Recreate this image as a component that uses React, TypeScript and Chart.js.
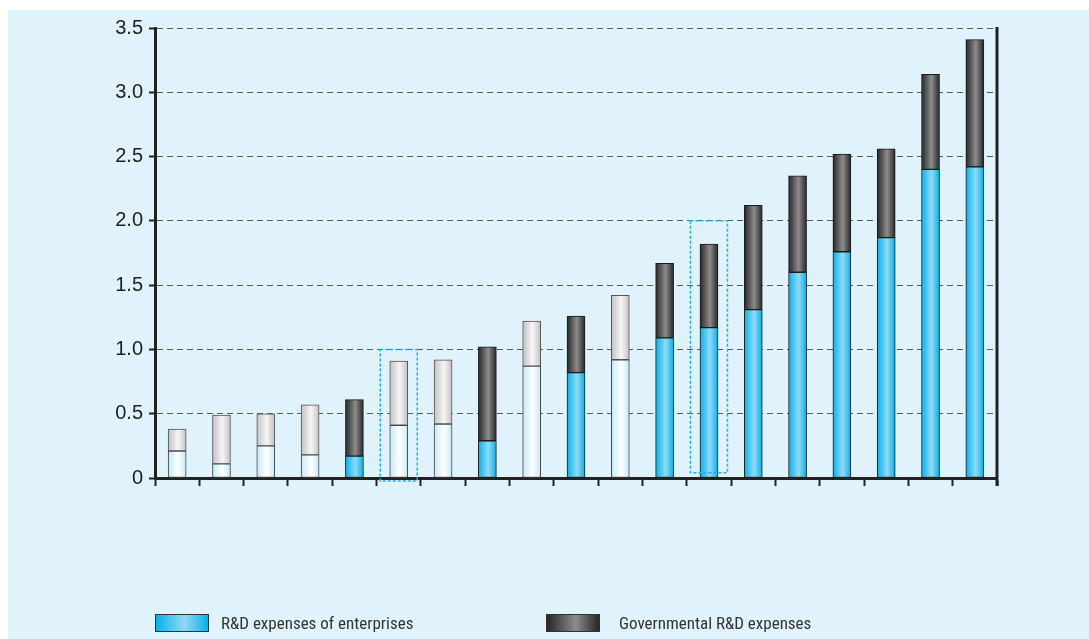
import React, { useEffect, useRef } from "react";
import { Chart, registerables } from "chart.js";

Chart.register(...registerables);

// ---- data ----
const categories: string[] = [
  "1", "2", "3", "4", "5", "6", "7", "8", "9", "10",
  "11", "12", "13", "14", "15", "16", "17", "18", "19",
];
const enterpriseRD: number[] = [
  0.21, 0.11, 0.25, 0.18, 0.17, 0.41, 0.42, 0.29, 0.87, 0.82,
  0.92, 1.09, 1.17, 1.31, 1.6, 1.76, 1.87, 2.4, 2.42,
];
const governmentRD: number[] = [
  0.17, 0.38, 0.25, 0.39, 0.44, 0.5, 0.5, 0.73, 0.35, 0.44,
  0.5, 0.58, 0.65, 0.81, 0.75, 0.76, 0.69, 0.74, 0.99,
];
// bars drawn in pale colours
const paleBars: boolean[] = [
  true, true, true, true, false, true, true, false, true, false,
  true, false, false, false, false, false, false, false, false,
];
const yTicks: number[] = [0, 0.5, 1.0, 1.5, 2.0, 2.5, 3.0, 3.5];
const highlightIndex: number[] = [5, 12];
const highlightTop: number[] = [1.0, 2.0];
const highlightBottom: number[] = [-0.023, 0.04];
const legendLabels: string[] = ["R&D expenses of enterprises", "Governmental R&D expenses"];

const BAR_W = 18;

const palette = {
  paleLow: ["#c4e9f8", "#ffffff", "#c4e9f8"],
  paleHigh: ["#c2c2c2", "#f6f6f6", "#c2c2c2"],
  cyan: ["#00b3ec", "#93d9f5", "#00b3ec"],
  dark: ["#262626", "#8c8c8c", "#262626"],
};

function makeGradient(ctx: any, which: "low" | "high") {
  const chart = ctx.chart;
  const i = ctx.dataIndex;
  const pale = paleBars[i];
  const cols =
    which === "low" ? (pale ? palette.paleLow : palette.cyan) : pale ? palette.paleHigh : palette.dark;
  const xs = chart.scales && chart.scales.x;
  if (!chart.chartArea || !xs || ctx.type !== "data") return cols[1];
  const cx = xs.getPixelForValue(i);
  if (!isFinite(cx)) return cols[1];
  const g = chart.ctx.createLinearGradient(cx - BAR_W / 2, 0, cx + BAR_W / 2, 0);
  g.addColorStop(0, cols[0]);
  g.addColorStop(0.55, cols[1]);
  g.addColorStop(1, cols[2]);
  return g;
}

const framePlugin = {
  id: "framePlugin",
  afterDatasetsDraw(chart: any) {
    const { ctx, chartArea, scales } = chart;
    const x = scales.x;
    const y = scales.y;
    ctx.save();
    // right frame line
    ctx.strokeStyle = "#222";
    ctx.lineWidth = 3;
    ctx.beginPath();
    ctx.moveTo(chartArea.right, chartArea.top - 1);
    ctx.lineTo(chartArea.right, chartArea.bottom + 8);
    ctx.stroke();
    // highlight boxes
    ctx.strokeStyle = "#1db2ea";
    ctx.lineWidth = 1.5;
    ctx.setLineDash([3, 2]);
    highlightIndex.forEach((idx, k) => {
      const cx = x.getPixelForValue(idx);
      const t = y.getPixelForValue(highlightTop[k]);
      const b = y.getPixelForValue(highlightBottom[k]);
      ctx.strokeRect(cx - 18.5, t, 37, b - t);
    });
    ctx.restore();
  },
};

export default function App() {
  const ref = useRef<HTMLCanvasElement | null>(null);
  useEffect(() => {
    if (!ref.current) return;
    const chart = new Chart(ref.current, {
      type: "bar",
      data: {
        labels: categories,
        datasets: [
          {
            label: legendLabels[0],
            data: enterpriseRD,
            backgroundColor: (c: any) => makeGradient(c, "low"),
            borderColor: (c: any) => (paleBars[c.dataIndex] ? "#444" : "#1a1a1a"),
            borderWidth: 1,
            borderSkipped: false,
            barThickness: BAR_W,
          },
          {
            label: legendLabels[1],
            data: governmentRD,
            backgroundColor: (c: any) => makeGradient(c, "high"),
            borderColor: (c: any) => (paleBars[c.dataIndex] ? "#555" : "#1a1a1a"),
            borderWidth: 1,
            borderSkipped: false,
            barThickness: BAR_W,
          },
        ],
      },
      options: {
        animation: false,
        responsive: false,
        layout: { padding: { top: 18, right: 92, left: 0, bottom: 0 } },
        plugins: { legend: { display: false }, tooltip: { enabled: false } },
        scales: {
          x: {
            stacked: true,
            offset: true,
            grid: {
              offset: true,
              drawOnChartArea: false,
              drawTicks: true,
              tickLength: 8,
              tickColor: "#222",
              tickWidth: 2,
            },
            border: { display: true, color: "#222", width: 3 },
            ticks: { display: false },
            afterFit: (s: any) => {
              s.height = 161;
            },
          },
          y: {
            stacked: true,
            min: 0,
            max: 3.5,
            afterBuildTicks: (s: any) => {
              s.ticks = yTicks.map((v) => ({ value: v }));
            },
            ticks: {
              color: "#222",
              font: { family: "'Liberation Sans', Arial, sans-serif", size: 20 },
              padding: 6,
              callback: (v: any) => (Number(v) === 0 ? "0" : Number(v).toFixed(1)),
            },
            grid: {
              color: "#5a5a5a",
              lineWidth: 1,
              drawTicks: true,
              tickLength: 6,
              tickColor: "#222",
              tickWidth: 2,
            },
            border: { display: true, color: "#222", width: 3, dash: [6, 4] },
            afterFit: (s: any) => {
              s.width = 147;
            },
          },
        },
      },
      plugins: [framePlugin],
    } as any);
    return () => chart.destroy();
  }, []);

  const legendFont = "'Roboto Condensed', 'Liberation Sans', sans-serif";
  const boxStyle = (cols: string[]) => ({
    position: "absolute" as const,
    width: 52,
    height: 16,
    border: "1px solid #333",
    background: `linear-gradient(to right, ${cols[0]} 0%, ${cols[1]} 55%, ${cols[2]} 100%)`,
  });
  const textStyle = {
    position: "absolute" as const,
    fontFamily: legendFont,
    fontSize: 17,
    color: "#333",
    lineHeight: "20px",
    whiteSpace: "nowrap" as const,
  };

  return (
    <div
      style={{
        position: "absolute",
        left: 8,
        top: 10,
        width: 1081,
        height: 629,
        background: "#e0f2fb",
        overflow: "hidden",
      }}
    >
      <canvas ref={ref} width={1081} height={629} style={{ display: "block" }} />
      <div style={{ ...boxStyle(palette.cyan), left: 147, top: 604 }} />
      <div style={{ ...textStyle, left: 213, top: 603 }}>{legendLabels[0]}</div>
      <div style={{ ...boxStyle(palette.dark), left: 538, top: 604 }} />
      <div style={{ ...textStyle, left: 611, top: 603 }}>{legendLabels[1]}</div>
    </div>
  );
}
